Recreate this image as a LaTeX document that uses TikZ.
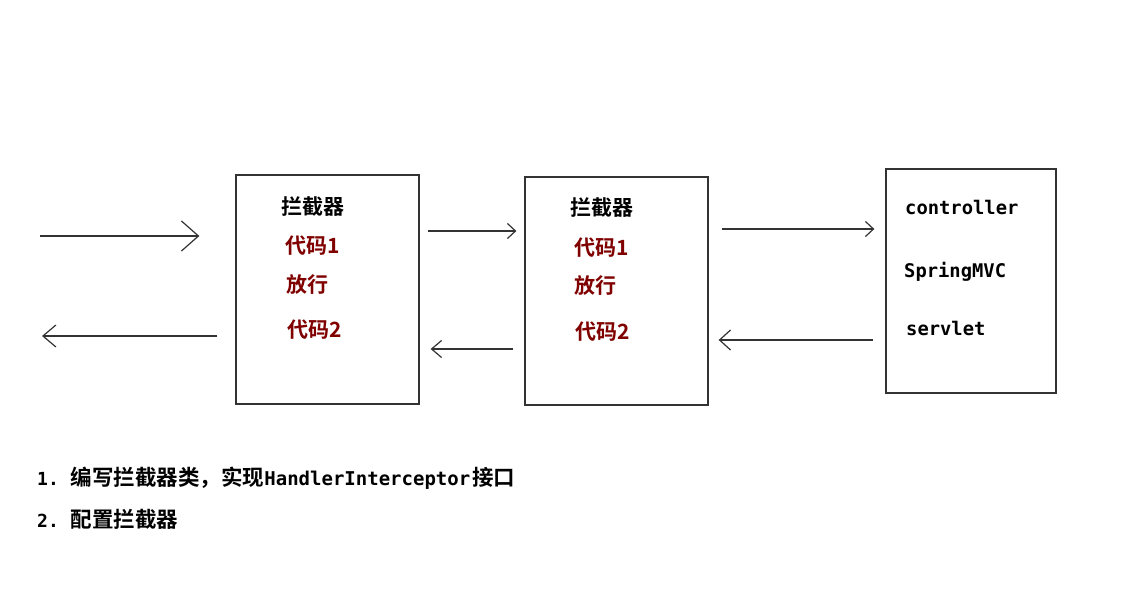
\documentclass[tikz,border=0pt]{standalone}
\usepackage{fontspec}
\usetikzlibrary{arrows.meta}
\newfontfamily\cjk{Noto Sans CJK SC}[BoldFont={Noto Sans CJK SC Bold}]
\newfontfamily\monof{DejaVu Sans Mono Bold}
\definecolor{codered}{HTML}{800000}
\definecolor{linegray}{HTML}{333333}
\begin{document}
\begin{tikzpicture}[x=1pt,y=-1pt,
  boxst/.style={draw=linegray,line width=1.3pt,fill=white,inner sep=0pt},
  cn/.style={anchor=west,inner sep=0pt,font=\cjk\bfseries\fontsize{21}{25}\selectfont},
  cnred/.style={cn,text=codered},
  note/.style={cn,font=\cjk\bfseries\fontsize{21.5}{26}\selectfont},
  mono/.style={anchor=west,inner sep=0pt,font=\monof\fontsize{18.8}{22}\selectfont},
  arr/.style={draw=linegray,line width=1.3pt}
]
\useasboundingbox (0,0) rectangle (1145,607);
\fill[white] (0,0) rectangle (1145,607);

% boxes
\node[boxst,minimum width=183pt,minimum height=229pt] (b1) at (327.5,289.5) {};
\node[boxst,minimum width=183pt,minimum height=228pt] (b2) at (616.5,291) {};
\node[boxst,minimum width=170pt,minimum height=224pt] (b3) at (971,281) {};

% box 1 texts
\node[cn] (t11) at (281,207) {拦截器};
\node[cnred] (t12) at (285,246) {代码1};
\node[cnred] (t13) at (286,285) {放行};
\node[cnred] (t14) at (287,330) {代码2};
% box 2 texts
\node[cn] (t21) at (570,208) {拦截器};
\node[cnred] (t22) at (574,248) {代码1};
\node[cnred] (t23) at (574,286) {放行};
\node[cnred] (t24) at (575,332) {代码2};
% box 3 texts
\node[mono] (t31) at (905,207) {controller};
\node[mono] (t32) at (904,272) {SpringMVC};
\node[mono] (t33) at (906,328) {servlet};

% free ends
\coordinate (in1) at (40,236);
\coordinate (out1) at (42,336);

% arrows
\draw[arr,-{Straight Barb[length=17pt,width=30pt,line width=1.2pt]},shorten >=36pt] (in1) -- (b1.west |- in1);
\draw[arr,-{Straight Barb[length=13pt,width=22pt,line width=1.2pt]},shorten <=18pt] (b1.west |- out1) -- (out1);
\draw[arr,-{Straight Barb[length=8pt,width=15pt,line width=1.2pt]},shorten <=8pt,shorten >=8pt] (b1.east |- 0,231) -- (b2.west |- 0,231);
\draw[arr,-{Straight Barb[length=10pt,width=17pt,line width=1.2pt]},shorten <=11pt,shorten >=11pt] (b2.west |- 0,349) -- (b1.east |- 0,349);
\draw[arr,-{Straight Barb[length=8pt,width=15pt,line width=1.2pt]},shorten <=13pt,shorten >=11pt] (b2.east |- 0,229) -- (b3.west |- 0,229);
\draw[arr,-{Straight Barb[length=11pt,width=20pt,line width=1.2pt]},shorten <=12pt,shorten >=10pt] (b3.west |- 0,340) -- (b2.east |- 0,340);

% notes
\node[note] (n1) at (37,478) {{\monof\fontsize{18}{20}\selectfont 1.}\hspace{12pt}编写拦截器类，实现{\monof\fontsize{19}{22}\selectfont HandlerInterceptor}\hspace{2pt}接口};
\node[note] (n2) at (37,519) {{\monof\fontsize{18}{20}\selectfont 2.}\hspace{12pt}配置拦截器};
\end{tikzpicture}
\end{document}
